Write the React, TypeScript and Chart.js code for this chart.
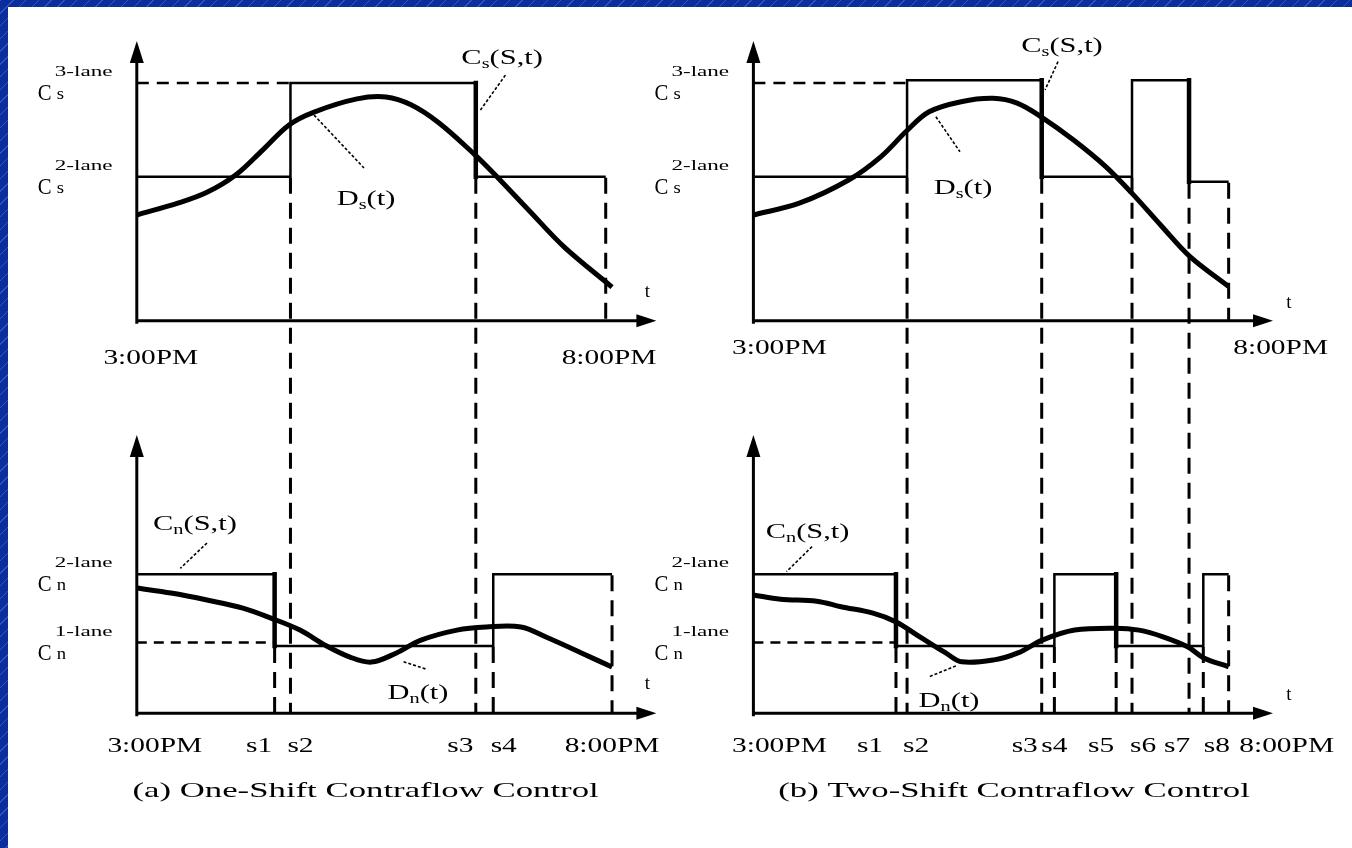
import { useEffect, useRef } from 'react';
import { Chart, registerables } from 'chart.js';

Chart.register(...registerables);

// ---------- DATA (time in minutes after 3:00 PM; flow in relative units) ----------
const endTime = 300; // 8:00 PM
const leftTopEnd = 296;

// switching instants s1..s4 (one shift) and s1..s8 (two shifts)
const leftSwitches = [87, 97, 214, 225];
const rightSwitches = [90, 97, 182, 190, 229, 239, 275, 284];

// capacity levels
const capTop3 = 85; // Cs 3-lane
const capTop2 = 51.5; // Cs 2-lane
const capBot2 = 50; // Cn 2-lane
const capBot1 = 25.4; // Cn 1-lane
const capBotLow = 24.2;
const rightTopHigh = 86;
const rightTopLast = 49.7;

// capacity step series: boundaries and the level held in each interval
const leftTopTimes = [0, leftSwitches[1], leftSwitches[2], leftTopEnd];
const leftTopLevels = [capTop2, capTop3, capTop2];
const leftBotTimes = [0, leftSwitches[0], leftSwitches[3], endTime];
const leftBotLevels = [capBot2, capBotLow, capBot2];
const rightTopTimes = [0, rightSwitches[1], rightSwitches[2], rightSwitches[5], rightSwitches[6], endTime];
const rightTopLevels = [capTop2, rightTopHigh, capTop2, rightTopHigh, rightTopLast];
const rightBotTimes = [0, rightSwitches[0], rightSwitches[3], rightSwitches[4], rightSwitches[7], endTime];
const rightBotLevels = [capBot2, capBotLow, capBot2, capBotLow, capBot2];

// demand curves
const leftDsT = [0, 26.4, 44.3, 62.4, 79.4, 96.1, 111.9, 139, 157.3, 173.1, 190.8, 213.5, 224.9, 247.3, 269.7, 300];
const leftDsV = [37.8, 42.1, 45.9, 52.1, 61.0, 70.0, 74.6, 79.3, 80.0, 77.2, 70.7, 59.3, 52.9, 39.6, 26.4, 12.0];
const leftDnT = [0, 21.6, 44.3, 67.0, 84.7, 103.0, 118.8, 134.6, 148.1, 163.6, 179.4, 202.1, 220.5, 242.5, 258.3, 281.0, 300];
const leftDnV = [45.0, 43.2, 40.7, 37.8, 34.2, 29.9, 24.5, 20.2, 18.4, 21.6, 26.3, 29.9, 31.0, 31.0, 27.4, 21.6, 16.6];
const rightDsT = [0, 29.4, 60.1, 80.4, 97, 110.9, 131.1, 151.3, 166.5, 181.6, 202.1, 222.4, 238.9, 258, 275.6, 300];
const rightDsV = [37.8, 42.1, 50.3, 58.6, 68.0, 74.7, 78.3, 79.5, 77.8, 72.9, 64.6, 55.1, 45.6, 33.6, 22.9, 12.2];
const rightDnT = [0, 17.1, 40.0, 55.3, 75.5, 89.8, 106.1, 121.4, 131.6, 151.9, 167.0, 182.4, 202.8, 228.3, 243.4, 258.6, 274.1, 284.3, 300];
const rightDnV = [42.5, 41.0, 40.3, 38.3, 36.0, 32.9, 27.1, 21.7, 18.5, 19.2, 21.7, 26.3, 29.9, 30.6, 29.9, 27.5, 23.9, 19.9, 16.7];

// tick labels
const topTickLabels = ['3:00PM', '8:00PM'];
const leftBottomTickLabels = ['3:00PM', 's1', 's2', 's3', 's4', '8:00PM'];
const rightBottomTickLabels = ['3:00PM', 's1', 's2', 's3', 's4', 's5', 's6', 's7', 's8', '8:00PM'];
const leftTitle = '(a) One-Shift Contraflow Control';
const rightTitle = '(b) Two-Shift Contraflow Control';

// ---------- LAYOUT / STYLE ----------
const FONT = '"Liberation Serif", "Times New Roman", serif';
const X_MAX = 328;
const PAGE_TOP_AXIS_TIP = 41;
const PAGE_TOP_XAXIS = 320.7;
const PAGE_BOT_AXIS_TIP = 435;
const PAGE_BOT_XAXIS = 713.3;
const CANVAS_TOP = 7;
const CANVAS_H = 841;

type Run = { t: string; size: number; dy?: number };
type Label = { runs: Run[]; x: number; y: number; axis: 'top' | 'bot' };
type Leader = { x1: number; y1: number; x2: number; y2: number; axis: 'top' | 'bot' };

const mainRuns = (a: string, sub: string, b: string): Run[] => [
  { t: a, size: 21 },
  { t: sub, size: 14, dy: 4 },
  { t: b, size: 21 },
];

const leftCol = {
  canvasLeft: 8,
  canvasWidth: 668,
  axisPage: 136.8,
  tipPage: 656.4,
  topTimes: leftTopTimes,
  topLevels: leftTopLevels,
  botTimes: leftBotTimes,
  botLevels: leftBotLevels,
  ds: [leftDsT, leftDsV],
  dn: [leftDnT, leftDnV],
  refTopEnd: leftSwitches[1],
  refBotEnd: leftSwitches[0],
  topTickValues: [0, endTime],
  topTickNudge: [14, -3],
  topTickBaseline: 364,
  botTickLabels: leftBottomTickLabels,
  botTickValues: [0, ...leftSwitches, endTime],
  botTickNudge: [18, -15.5, 10, -15.5, 10.5, 0],
  tNudge: [-9, -24],
  title: leftTitle,
  titleX: 144.4,
  labels: [
    { runs: mainRuns('D', 's', '(t)'), x: 144.7, y: 43.9, axis: 'top' },
    { runs: mainRuns('C', 's', '(S,t)'), x: 230.6, y: 94.3, axis: 'top' },
    { runs: mainRuns('C', 'n', '(S,t)'), x: 36.7, y: 68.4, axis: 'bot' },
    { runs: mainRuns('D', 'n', '(t)'), x: 177.5, y: 7.5, axis: 'bot' },
  ] as Label[],
  leaders: [
    { x1: 111.9, y1: 73.5, x2: 143.4, y2: 54.6, axis: 'top' },
    { x1: 232.7, y1: 87.8, x2: 216.9, y2: 75.3, axis: 'top' },
    { x1: 44.3, y1: 61.2, x2: 27.5, y2: 52.1, axis: 'bot' },
    { x1: 168.4, y1: 18.5, x2: 183.1, y2: 15.8, axis: 'bot' },
  ] as Leader[],
};

const rightCol = {
  canvasLeft: 630,
  canvasWidth: 722,
  axisPage: 753.4,
  tipPage: 1273,
  topTimes: rightTopTimes,
  topLevels: rightTopLevels,
  botTimes: rightBotTimes,
  botLevels: rightBotLevels,
  ds: [rightDsT, rightDsV],
  dn: [rightDnT, rightDnV],
  refTopEnd: rightSwitches[1],
  refBotEnd: rightSwitches[0],
  topTickValues: [0, endTime],
  topTickNudge: [26, 52],
  topTickBaseline: 354,
  botTickLabels: rightBottomTickLabels,
  botTickValues: [0, ...rightSwitches, endTime],
  botTickNudge: [26, -26, 9, -17, 0, -15, 11, -12, 13.5, 58],
  tNudge: [16, -13],
  title: rightTitle,
  titleX: 164.5,
  labels: [
    { runs: mainRuns('D', 's', '(t)'), x: 132.3, y: 47.8, axis: 'top' },
    { runs: mainRuns('C', 's', '(S,t)'), x: 194.8, y: 98.6, axis: 'top' },
    { runs: mainRuns('C', 'n', '(S,t)'), x: 34.2, y: 65.5, axis: 'bot' },
    { runs: mainRuns('D', 'n', '(t)'), x: 123.5, y: 4.8, axis: 'bot' },
  ] as Label[],
  leaders: [
    { x1: 115.2, y1: 72.9, x2: 130.4, y2: 60.4, axis: 'top' },
    { x1: 192.3, y1: 92.6, x2: 184.1, y2: 82.5, axis: 'top' },
    { x1: 37.0, y1: 59.9, x2: 20.9, y2: 50.9, axis: 'bot' },
    { x1: 127.8, y1: 17.0, x2: 111.2, y2: 13.2, axis: 'bot' },
  ] as Leader[],
};

type Col = typeof leftCol;

function drawRuns(ctx: CanvasRenderingContext2D, runs: Run[], x: number, baseline: number, align: 'left' | 'center', stretch: number) {
  const widths = runs.map((r) => {
    ctx.font = `${r.size}px ${FONT}`;
    return ctx.measureText(r.t).width * stretch;
  });
  const total = widths.reduce((a, b) => a + b, 0);
  let cur = align === 'center' ? x - total / 2 : x;
  runs.forEach((r, i) => {
    ctx.save();
    ctx.font = `${r.size}px ${FONT}`;
    ctx.textAlign = 'left';
    ctx.textBaseline = 'alphabetic';
    ctx.fillStyle = '#000';
    ctx.translate(cur, baseline + (r.dy || 0));
    ctx.scale(stretch, 1);
    ctx.fillText(r.t, 0, 0);
    ctx.restore();
    cur += widths[i];
  });
}

function stepPoints(times: number[], levels: number[]) {
  const pts: { x: number; y: number }[] = [];
  levels.forEach((lv, i) => {
    pts.push({ x: times[i], y: lv });
    pts.push({ x: times[i + 1], y: lv });
  });
  return pts;
}

function fallPoints(times: number[], levels: number[]) {
  const pts: { x: number; y: number | null }[] = [];
  for (let i = 1; i < levels.length; i++) {
    if (levels[i] < levels[i - 1]) {
      pts.push({ x: times[i], y: levels[i - 1] });
      pts.push({ x: times[i], y: levels[i] });
      pts.push({ x: times[i], y: null });
    }
  }
  return pts;
}

function curvePoints(t: number[], v: number[]) {
  return t.map((x, i) => ({ x, y: v[i] }));
}

function makePlugin(col: Col) {
  return {
    id: 'diagram',
    beforeDatasetsDraw(chart: any) {
      const ctx: CanvasRenderingContext2D = chart.ctx;
      const x = chart.scales.x;
      const yt = chart.scales.yTop;
      const yb = chart.scales.yBot;
      ctx.save();
      ctx.strokeStyle = '#000';
      ctx.lineWidth = 3;
      ctx.setLineDash([16, 9]);
      const v = (t: number, y1: number, y2: number) => {
        const xp = x.getPixelForValue(t);
        ctx.beginPath();
        ctx.moveTo(xp, y1);
        ctx.lineTo(xp, y2);
        ctx.stroke();
      };
      const tt = col.topTimes, tl = col.topLevels;
      for (let j = 1; j < tt.length - 1; j++) {
        v(tt[j], yt.getPixelForValue(Math.min(tl[j - 1], tl[j])) + 1, yb.getPixelForValue(0));
      }
      v(tt[tt.length - 1], yt.getPixelForValue(tl[tl.length - 1]) + 1, yt.getPixelForValue(0));
      const bt = col.botTimes, bl = col.botLevels;
      for (let j = 1; j < bt.length - 1; j++) {
        v(bt[j], yb.getPixelForValue(Math.min(bl[j - 1], bl[j])) + 1, yb.getPixelForValue(0));
      }
      v(bt[bt.length - 1], yb.getPixelForValue(bl[bl.length - 1]) + 1, yb.getPixelForValue(0));
      ctx.restore();
    },
    afterDatasetsDraw(chart: any) {
      const ctx: CanvasRenderingContext2D = chart.ctx;
      const x = chart.scales.x;
      const yt = chart.scales.yTop;
      const yb = chart.scales.yBot;
      ctx.save();
      ctx.fillStyle = '#000';
      ctx.strokeStyle = '#000';
      ctx.setLineDash([]);
      ctx.lineWidth = 3;
      const ax = x.getPixelForValue(0);
      const tip = x.getPixelForValue(X_MAX);
      const axes = [
        [yt.getPixelForValue(0), yt.getPixelForValue(100)],
        [yb.getPixelForValue(0), yb.getPixelForValue(100)],
      ];
      axes.forEach(([y0, yTip]) => {
        ctx.beginPath();
        ctx.moveTo(ax, y0 + 3);
        ctx.lineTo(ax, yTip + 10);
        ctx.moveTo(ax - 1.5, y0);
        ctx.lineTo(tip - 10, y0);
        ctx.stroke();
        ctx.beginPath();
        ctx.moveTo(ax, yTip);
        ctx.lineTo(ax + 7, yTip + 22);
        ctx.lineTo(ax - 7, yTip + 22);
        ctx.closePath();
        ctx.fill();
        ctx.beginPath();
        ctx.moveTo(tip, y0);
        ctx.lineTo(tip - 20, y0 - 6.5);
        ctx.lineTo(tip - 20, y0 + 6.5);
        ctx.closePath();
        ctx.fill();
        drawRuns(ctx, [{ t: 't', size: 19 }], tip + col.tNudge[0], y0 + col.tNudge[1], 'center', 1);
      });

      // capacity labels on the y axes
      const capLabel = (py: number, sub: string, sup: string) => {
        drawRuns(ctx, [{ t: 'C', size: 23 }], ax - 99, py + 17, 'left', 0.9);
        drawRuns(ctx, [{ t: sub, size: 17 }], ax - 80, py + 16, 'left', 1.1);
        drawRuns(ctx, [{ t: sup, size: 14 }], ax - 82, py - 7, 'left', 1.65);
      };
      capLabel(yt.getPixelForValue(capTop3), 's', '3-lane');
      capLabel(yt.getPixelForValue(capTop2), 's', '2-lane');
      capLabel(yb.getPixelForValue(capBot2), 'n', '2-lane');
      capLabel(yb.getPixelForValue(capBot1), 'n', '1-lane');

      // tick labels
      const off = CANVAS_TOP;
      col.topTickValues.forEach((t, i) => {
        drawRuns(ctx, [{ t: topTickLabels[i], size: 21 }], x.getPixelForValue(t) + col.topTickNudge[i], col.topTickBaseline - off, 'center', 1.4);
      });
      col.botTickValues.forEach((t, i) => {
        drawRuns(ctx, [{ t: col.botTickLabels[i], size: 21 }], x.getPixelForValue(t) + col.botTickNudge[i], 752 - off, 'center', 1.4);
      });

      // curve labels and leader lines
      col.labels.forEach((l) => {
        const s = l.axis === 'top' ? yt : yb;
        drawRuns(ctx, l.runs, x.getPixelForValue(l.x), s.getPixelForValue(l.y) + 7, 'center', 1.45);
      });
      ctx.lineWidth = 1.6;
      ctx.setLineDash([3, 2]);
      col.leaders.forEach((l) => {
        const s = l.axis === 'top' ? yt : yb;
        ctx.beginPath();
        ctx.moveTo(x.getPixelForValue(l.x1), s.getPixelForValue(l.y1));
        ctx.lineTo(x.getPixelForValue(l.x2), s.getPixelForValue(l.y2));
        ctx.stroke();
      });
      ctx.setLineDash([]);

      // panel title
      drawRuns(ctx, [{ t: col.title, size: 22 }], x.getPixelForValue(col.titleX), 797 - off, 'center', 1.58);
      ctx.restore();
    },
  };
}

function makeChart(canvas: HTMLCanvasElement, col: Col) {
  const H = PAGE_BOT_XAXIS - PAGE_TOP_AXIS_TIP;
  const topMin = 100 - (100 * H) / (PAGE_TOP_XAXIS - PAGE_TOP_AXIS_TIP);
  const botMax = (100 * H) / (PAGE_BOT_XAXIS - PAGE_BOT_AXIS_TIP);
  const base = { borderColor: '#000', pointRadius: 0, fill: false, clip: false as any, spanGaps: false };
  const curve = { borderWidth: 5, tension: 0.35 };
  const datasets: any[] = [
    { ...base, ...curve, data: curvePoints(col.ds[0], col.ds[1]), yAxisID: 'yTop' },
    { ...base, data: stepPoints(col.topTimes, col.topLevels), yAxisID: 'yTop', borderWidth: 2.5, tension: 0 },
    { ...base, data: fallPoints(col.topTimes, col.topLevels), yAxisID: 'yTop', borderWidth: 4.5, tension: 0, borderCapStyle: 'square' },
    { ...base, data: [{ x: 0, y: capTop3 }, { x: col.refTopEnd, y: capTop3 }], yAxisID: 'yTop', borderWidth: 2.5, borderDash: [12, 8] },
    { ...base, ...curve, data: curvePoints(col.dn[0], col.dn[1]), yAxisID: 'yBot' },
    { ...base, data: stepPoints(col.botTimes, col.botLevels), yAxisID: 'yBot', borderWidth: 2.5, tension: 0 },
    { ...base, data: fallPoints(col.botTimes, col.botLevels), yAxisID: 'yBot', borderWidth: 4.5, tension: 0, borderCapStyle: 'square' },
    { ...base, data: [{ x: 0, y: capBot1 }, { x: col.refBotEnd, y: capBot1 }], yAxisID: 'yBot', borderWidth: 2.5, borderDash: [10, 7] },
  ];
  return new Chart(canvas, {
    type: 'line',
    data: { datasets },
    options: {
      animation: false,
      responsive: false,
      devicePixelRatio: 1,
      events: [],
      layout: {
        padding: {
          left: col.axisPage - col.canvasLeft,
          right: col.canvasLeft + col.canvasWidth - col.tipPage,
          top: PAGE_TOP_AXIS_TIP - CANVAS_TOP,
          bottom: CANVAS_TOP + CANVAS_H - PAGE_BOT_XAXIS,
        },
      },
      plugins: { legend: { display: false }, tooltip: { enabled: false }, title: { display: false } },
      scales: {
        x: { type: 'linear', min: 0, max: X_MAX, display: false, bounds: 'data' },
        yTop: { type: 'linear', min: topMin, max: 100, display: false, bounds: 'data' },
        yBot: { type: 'linear', min: 0, max: botMax, display: false, bounds: 'data' },
      },
    } as any,
    plugins: [makePlugin(col)],
  });
}

export default function App() {
  const leftRef = useRef<HTMLCanvasElement>(null);
  const rightRef = useRef<HTMLCanvasElement>(null);
  useEffect(() => {
    const a = makeChart(leftRef.current!, leftCol);
    const b = makeChart(rightRef.current!, rightCol);
    return () => {
      a.destroy();
      b.destroy();
    };
  }, []);
  return (
    <div
      style={{
        position: 'fixed',
        left: 0,
        top: 0,
        width: 1352,
        height: 848,
        overflow: 'hidden',
        backgroundColor: '#0b2e9e',
        backgroundImage: 'repeating-linear-gradient(135deg, rgba(90,130,230,0.45) 0px, rgba(90,130,230,0.45) 1px, transparent 1px, transparent 9px)',
      }}
    >
      <div style={{ position: 'absolute', left: 8, top: 7, width: 1344, height: 841, background: '#fff' }} />
      <canvas
        ref={leftRef}
        width={leftCol.canvasWidth}
        height={CANVAS_H}
        style={{ position: 'absolute', left: leftCol.canvasLeft, top: CANVAS_TOP, width: leftCol.canvasWidth, height: CANVAS_H }}
      />
      <canvas
        ref={rightRef}
        width={rightCol.canvasWidth}
        height={CANVAS_H}
        style={{ position: 'absolute', left: rightCol.canvasLeft, top: CANVAS_TOP, width: rightCol.canvasWidth, height: CANVAS_H }}
      />
    </div>
  );
}
